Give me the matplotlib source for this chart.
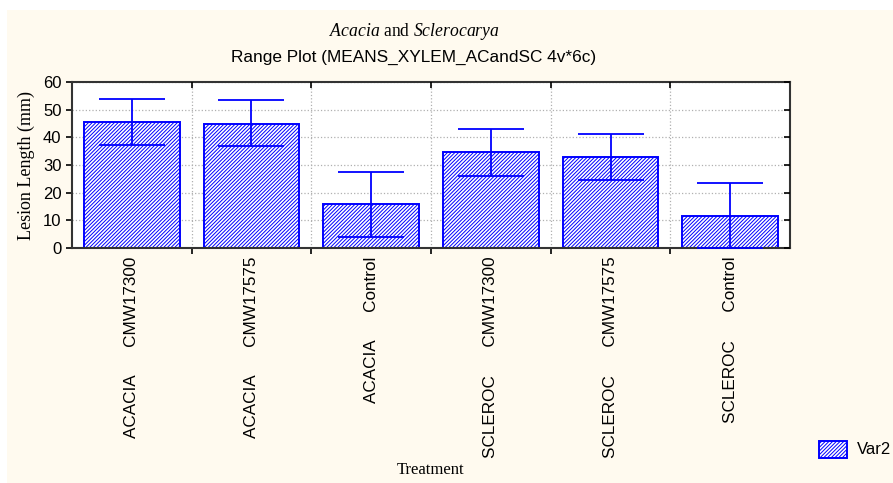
import numpy as np
import matplotlib
matplotlib.use("Agg")
import matplotlib.pyplot as plt
from matplotlib.patches import Rectangle

#---------------------------------------------------------------
# Data (means and range limits)
#---------------------------------------------------------------
host = ["ACACIA", "ACACIA", "ACACIA", "SCLEROC", "SCLEROC", "SCLEROC"]
isolate = ["CMW17300", "CMW17575", "Control", "CMW17300", "CMW17575", "Control"]
means = [45.5, 44.9, 15.8, 34.7, 32.8, 11.7]
upper = [54.0, 53.5, 27.6, 43.1, 41.3, 23.4]
lower = [37.2, 36.7, 4.0, 26.1, 24.5, 0.0]

plt.rcParams['mathtext.fontset'] = 'custom'
plt.rcParams['mathtext.it'] = 'Liberation Serif:italic'
plt.rcParams['mathtext.rm'] = 'Liberation Serif'
plt.rcParams['hatch.linewidth'] = 0.7

W, H = 893, 483
HATCH = "/" * 9
fig = plt.figure(figsize=(W / 100, H / 100), dpi=100, facecolor="white")
# cream background panel
fig.patches.append(Rectangle((7 / W, 0), 1, (H - 10) / H, transform=fig.transFigure,
                             facecolor="#fffaef", edgecolor="none", zorder=-5))

ax = fig.add_axes([72 / W, 1 - 248 / H, (790 - 72) / W, (248 - 82) / H])
ax.set_facecolor("white")

x = np.arange(len(means))
labels = [f"{h}      {i}" for h, i in zip(host, isolate)]

ax.bar(x, means, width=0.8, facecolor="white", edgecolor="blue", hatch=HATCH,
       linewidth=1.4, zorder=2, label="Var2")
yerr = [np.array(means) - np.array(lower), np.array(upper) - np.array(means)]
ax.errorbar(x, means, yerr=yerr, fmt="none", ecolor="blue", elinewidth=1.3,
            capsize=24, capthick=1.3, zorder=3)

ax.set_xlim(-0.5, len(means) - 0.5)
ax.set_ylim(0, 60)
ax.set_yticks(np.arange(0, 61, 10))
ax.set_xticks(np.arange(0.5, len(means) - 0.5, 1))
ax.set_xticklabels([])
ax.set_xticks(x, minor=True)
ax.set_xticklabels(labels, minor=True, rotation=90, va="top", ha="center",
                   fontfamily="Liberation Sans", fontsize=12.3)
ax.tick_params(axis="x", which="minor", length=0, pad=6)
ax.tick_params(axis="x", which="major", length=4, direction="out", width=1.2)
ax.tick_params(axis="y", length=4, direction="out", width=1.2, labelsize=12)
for lab in ax.get_yticklabels():
    lab.set_fontfamily("Liberation Sans")

ax.grid(True, which="major", linestyle=":", color="#b0b0b0", linewidth=0.9, zorder=0)
ax.set_axisbelow(True)
for s in ax.spines.values():
    s.set_linewidth(1.5)
    s.set_color("#333333")

# inward ticks on right and top
axr = ax.twinx()
axr.set_ylim(0, 60)
axr.set_yticks(np.arange(0, 61, 10))
axr.tick_params(axis="y", direction="in", length=4, width=1.2, labelright=False)
axt = ax.twiny()
axt.set_xlim(-0.5, len(means) - 0.5)
axt.set_xticks(np.arange(0.5, len(means) - 0.5, 1))
axt.tick_params(axis="x", direction="in", length=4, width=1.2, labeltop=False)
for a in (axr, axt):
    for s in a.spines.values():
        s.set_visible(False)

ax.set_ylabel("Lesion Length (mm)", fontfamily="Liberation Serif", fontsize=13, labelpad=6)
fig.text(431 / W, 1 - 470 / H, "Treatment", ha="center", va="center",
         fontfamily="Liberation Serif", fontsize=12)

fig.text(414 / W, 1 - 32 / H, r"$\it{Acacia}$ and $\it{Sclerocarya}$", ha="center",
         va="center", fontfamily="Liberation Serif", fontsize=12.7)
fig.text(414 / W, 1 - 57 / H, "Range Plot (MEANS_XYLEM_ACandSC 4v*6c)", ha="center",
         va="center", fontfamily="Liberation Sans", fontsize=12.4)

# legend patch bottom right
fig.patches.append(Rectangle((819 / W, 1 - 458 / H), 28 / W, 17 / H, transform=fig.transFigure,
                             facecolor="white", edgecolor="blue", hatch=HATCH,
                             linewidth=1.4, zorder=2))
fig.text(857 / W, 1 - 450 / H, "Var2", ha="left", va="center",
         fontfamily="Liberation Sans", fontsize=12)

fig.savefig("out.png", dpi=100)
